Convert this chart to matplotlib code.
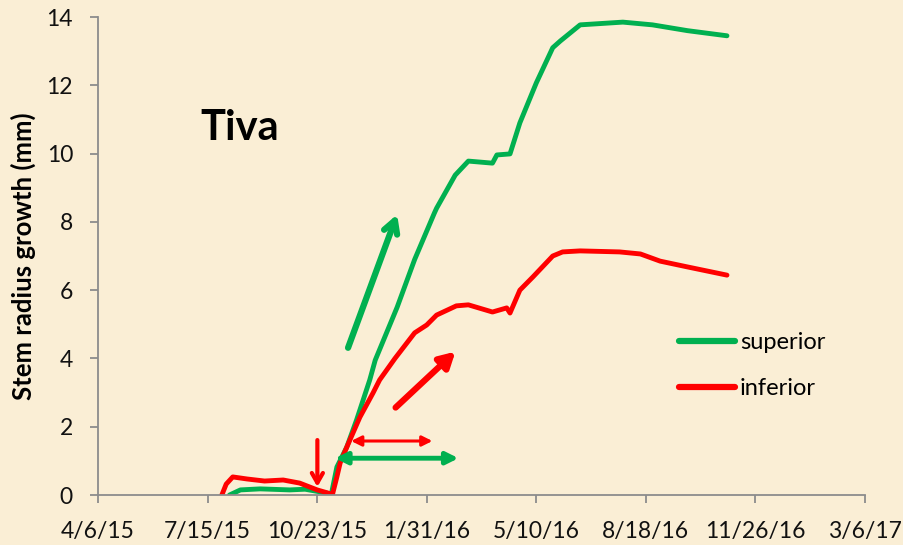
import matplotlib.pyplot as plt
import matplotlib.dates as mdates
import datetime as dt

plt.rcParams['font.family'] = ['Lato', 'DejaVu Sans']

# dias contados a partir de 4/6/15 (inicio do eixo)
inicio = dt.datetime(2015, 4, 6)

dias_superior = [120, 130, 148, 175, 189, 203, 213, 218, 227, 236, 248, 253, 273, 289,
                 307, 309, 326, 338, 360, 364, 376, 385, 400, 415, 422, 440, 479, 506,
                 538, 574]
valores_superior = [0.0, 0.15, 0.18, 0.15, 0.17, 0.09, 0.03, 0.82, 1.4, 2.2, 3.37, 3.95,
                    5.5, 6.9, 8.26, 8.4, 9.37, 9.78, 9.72, 9.96, 9.99, 10.9, 12.07, 13.1,
                    13.3, 13.77, 13.85, 13.77, 13.6, 13.45]

dias_inferior = [113, 117, 123, 136, 152, 169, 184, 200, 214, 218, 221, 227, 239, 251,
                 257, 271, 289, 300, 309, 327, 338, 360, 373, 376, 385, 397, 415, 424,
                 440, 476, 495, 513, 538, 574]
valores_inferior = [0.0, 0.32, 0.53, 0.47, 0.41, 0.44, 0.35, 0.15, 0.02, 0.53, 0.94, 1.4,
                    2.28, 2.99, 3.37, 4.0, 4.75, 4.98, 5.27, 5.54, 5.57, 5.36, 5.48, 5.33,
                    6.0, 6.39, 7.0, 7.12, 7.15, 7.12, 7.06, 6.85, 6.68, 6.44]

ticks_dias = [0, 100, 200, 300, 400, 500, 600, 700]
ticks_y = [0, 2, 4, 6, 8, 10, 12, 14]

verde = '#00B050'
vermelho = '#FF0000'
fundo = '#FAEED5'


def para_datas(dias):
    return [inicio + dt.timedelta(days=d) for d in dias]


def formata_data(v, pos):
    d = mdates.num2date(v)
    return '{}/{}/{}'.format(d.month, d.day, d.strftime('%y'))


fig = plt.figure(figsize=(9.04, 5.45), dpi=100)
fig.patch.set_facecolor(fundo)
ax = fig.add_axes([0.1084, 0.0917, 0.8485, 0.8771])
ax.set_facecolor(fundo)

ax.plot(para_datas(dias_superior), valores_superior, color=verde, lw=3.5,
        solid_capstyle='round', solid_joinstyle='round', label='superior')
ax.plot(para_datas(dias_inferior), valores_inferior, color=vermelho, lw=3.5,
        solid_capstyle='round', solid_joinstyle='round', label='inferior')

ax.set_xlim(inicio, inicio + dt.timedelta(days=700))
ax.set_ylim(0, 14)
ax.set_xticks(para_datas(ticks_dias))
ax.xaxis.set_major_formatter(plt.FuncFormatter(formata_data))
ax.set_yticks(ticks_y)

for s in ['top', 'right']:
    ax.spines[s].set_visible(False)
for s in ['left', 'bottom']:
    ax.spines[s].set_color('#8C8C8C')
    ax.spines[s].set_linewidth(1.3)
ax.tick_params(axis='both', colors='#8C8C8C', length=6, width=1.3, labelsize=16.5,
               labelcolor='#111111')
ax.tick_params(axis='x', pad=13)
ax.tick_params(axis='y', pad=12)

ax.set_ylabel('Stem radius growth (mm)', fontsize=18.5, fontweight='bold')
ax.yaxis.set_label_coords(-0.081, 0.5)

ax.text(0.133, 0.743, 'Tiva', transform=ax.transAxes, fontsize=30, fontweight='bold',
        va='baseline')


# setas desenhadas sobre o grafico (coordenadas em fracao dos eixos)
def seta(x0, y0, x1, y1, cor, estilo, lw):
    ax.annotate('', xy=(x1, y1), xytext=(x0, y0), xycoords='axes fraction',
                textcoords='axes fraction',
                arrowprops=dict(arrowstyle=estilo, color=cor, lw=lw, shrinkA=0, shrinkB=0,
                                capstyle='round'))


seta(0.326, 0.308, 0.390, 0.587, verde, '->,head_length=0.9,head_width=0.5', 4.5)
seta(0.388, 0.183, 0.466, 0.300, vermelho, '-|>,head_length=0.9,head_width=0.5', 4.5)
seta(0.286, 0.115, 0.286, 0.017, vermelho, '->,head_length=0.7,head_width=0.4', 3)
seta(0.330, 0.113, 0.436, 0.113, vermelho, '<|-|>,head_length=0.6,head_width=0.3', 2.2)
seta(0.309, 0.077, 0.470, 0.077, verde, '<|-|>,head_length=0.7,head_width=0.35', 3.5)

leg = ax.legend(loc='upper left', bbox_to_anchor=(0.757, 0.34), frameon=False, fontsize=17,
                handlelength=2.4, handletextpad=0.2, labelspacing=1.05, borderpad=0,
                borderaxespad=0)
for h in leg.get_lines():
    h.set_linewidth(4.5)

fig.savefig('out.png', dpi=100, facecolor=fundo)
